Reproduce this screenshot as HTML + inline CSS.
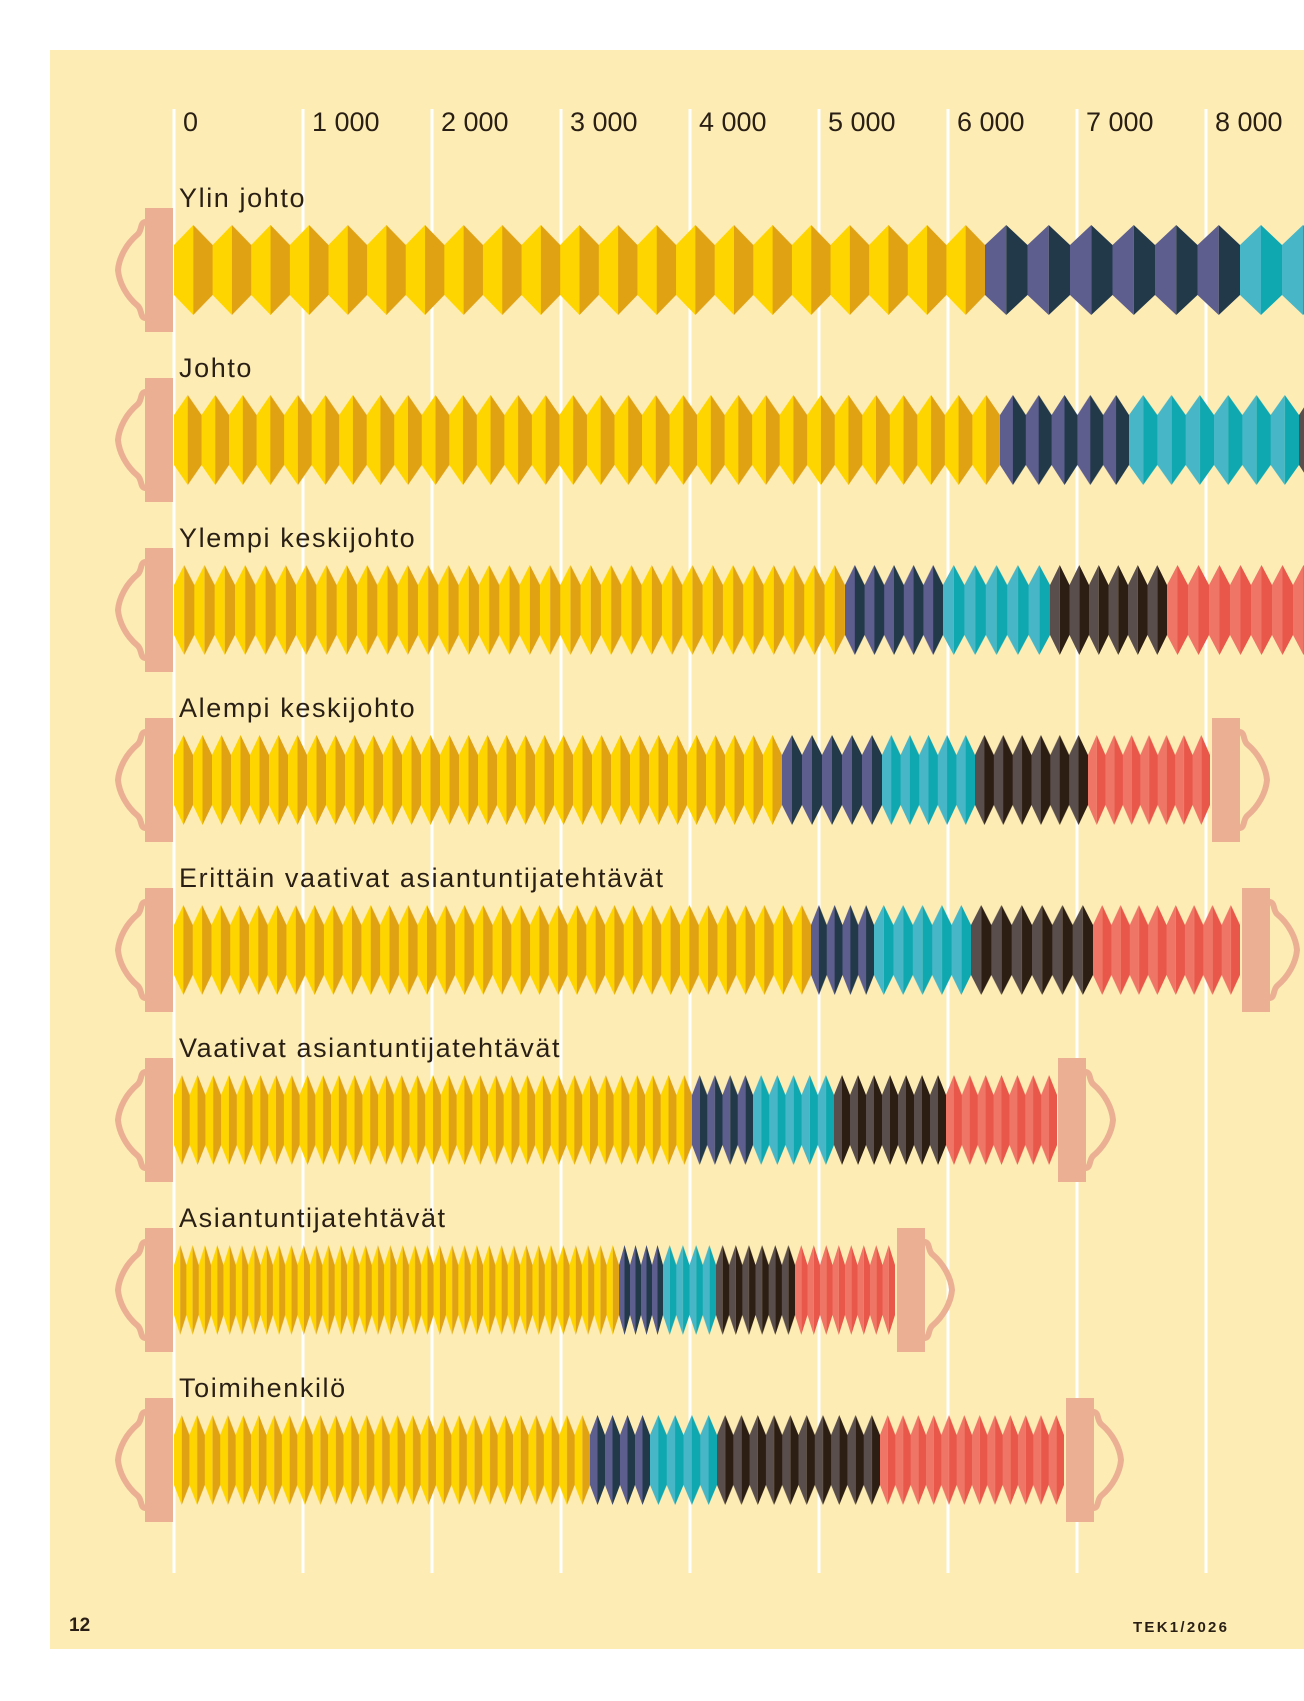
<!DOCTYPE html>
<html><head><meta charset="utf-8"><style>html,body{margin:0;padding:0;background:#fff}svg{display:block}</style></head>
<body>
<svg width="1304" height="1701" viewBox="0 0 1304 1701" xmlns="http://www.w3.org/2000/svg" font-family="'Liberation Sans', sans-serif">
<defs>
<pattern id="Y" viewBox="0 0 10 90" preserveAspectRatio="none" patternUnits="userSpaceOnUse" width="10" height="90" y="-45"><polygon points="5,0 0,20 0,70 5,90" fill="#FFD500"/><polygon points="5,0 10,20 10,70 5,90" fill="#E0A213"/></pattern>
<pattern id="N" href="#Y"><polygon points="5,0 0,20 0,70 5,90" fill="#5E5E8E"/><polygon points="5,0 10,20 10,70 5,90" fill="#22394A"/></pattern>
<pattern id="T" href="#Y"><polygon points="5,0 0,20 0,70 5,90" fill="#47B6C6"/><polygon points="5,0 10,20 10,70 5,90" fill="#0FA8B0"/></pattern>
<pattern id="D" href="#Y"><polygon points="5,0 0,20 0,70 5,90" fill="#5A4E4C"/><polygon points="5,0 10,20 10,70 5,90" fill="#2C1E12"/></pattern>
<pattern id="R" href="#Y"><polygon points="5,0 0,20 0,70 5,90" fill="#EF7566"/><polygon points="5,0 10,20 10,70 5,90" fill="#E8574A"/></pattern>

<pattern id="a1" href="#Y" x="174" width="38.62"/><pattern id="a2" href="#N" x="985" width="42.5"/><pattern id="a3" href="#T" x="1240" width="42"/>
<pattern id="b1" href="#Y" x="174" width="27.53"/><pattern id="b2" href="#N" x="1000" width="25.8"/><pattern id="b3" href="#T" x="1129" width="28.33"/><pattern id="b4" href="#D" x="1299" width="26"/>
<pattern id="c1" href="#Y" x="174" width="20.33"/><pattern id="c2" href="#N" x="845" width="19.6"/><pattern id="c3" href="#T" x="943" width="21.4"/><pattern id="c4" href="#D" x="1050" width="19.5"/><pattern id="c5" href="#R" x="1167" width="21"/>
<pattern id="d1" href="#Y" x="174" width="19"/><pattern id="d2" href="#N" x="782" width="20"/><pattern id="d3" href="#T" x="882" width="18.6"/><pattern id="d4" href="#D" x="975" width="18.83"/><pattern id="d5" href="#R" x="1088" width="17.43"/>
<pattern id="e1" href="#Y" x="174" width="18.74"/><pattern id="e2" href="#N" x="811" width="15.75"/><pattern id="e3" href="#T" x="874" width="19.4"/><pattern id="e4" href="#D" x="971" width="20.33"/><pattern id="e5" href="#R" x="1093" width="18.38"/>
<pattern id="f1" href="#Y" x="174" width="15.7"/><pattern id="f2" href="#N" x="692" width="15.25"/><pattern id="f3" href="#T" x="753" width="16.2"/><pattern id="f4" href="#D" x="834" width="16"/><pattern id="f5" href="#R" x="946" width="15.86"/>
<pattern id="g1" href="#Y" x="174" width="12.36"/><pattern id="g2" href="#N" x="619" width="11"/><pattern id="g3" href="#T" x="663" width="13.25"/><pattern id="g4" href="#D" x="716" width="13.17"/><pattern id="g5" href="#R" x="795" width="12.5"/>
<pattern id="h1" href="#Y" x="174" width="15.41"/><pattern id="h2" href="#N" x="590" width="15"/><pattern id="h3" href="#T" x="650" width="16.75"/><pattern id="h4" href="#D" x="717" width="16.3"/><pattern id="h5" href="#R" x="880" width="15.33"/>

<g id="capL"><rect x="145" y="-62" width="28" height="124" fill="#EBB093"/><path d="M145,-48 C140,-47 142,-40 138,-36 C126,-26 119,-12 118,0 C119,12 126,26 138,36 C142,40 140,47 145,48" fill="none" stroke="#EBB093" stroke-width="6" stroke-linecap="round"/></g>
<g id="capR"><rect x="0" y="-62" width="28" height="124" fill="#EBB093"/><path d="M28,-48 C33,-47 31,-40 35,-36 C47,-26 54,-12 55,0 C54,12 47,26 35,36 C31,40 33,47 28,48" fill="none" stroke="#EBB093" stroke-width="6" stroke-linecap="round"/></g>
</defs>

<rect x="50" y="50" width="1254" height="1599" fill="#FDEDB5"/>
<g stroke="#fff" stroke-width="3">
<line x1="174" y1="109" x2="174" y2="1573"/><line x1="303" y1="109" x2="303" y2="1573"/><line x1="432" y1="109" x2="432" y2="1573"/><line x1="561" y1="109" x2="561" y2="1573"/><line x1="690" y1="109" x2="690" y2="1573"/><line x1="819" y1="109" x2="819" y2="1573"/><line x1="948" y1="109" x2="948" y2="1573"/><line x1="1077" y1="109" x2="1077" y2="1573"/><line x1="1206" y1="109" x2="1206" y2="1573"/>
</g>
<g font-size="27" fill="#2A1F14">
<text x="183" y="131">0</text><text x="312" y="131">1 000</text><text x="441" y="131">2 000</text><text x="570" y="131">3 000</text><text x="699" y="131">4 000</text><text x="828" y="131">5 000</text><text x="957" y="131">6 000</text><text x="1086" y="131">7 000</text><text x="1215" y="131">8 000</text>
<g letter-spacing="1.6">
<text x="179" y="207">Ylin johto</text>
<text x="179" y="377">Johto</text>
<text x="179" y="547">Ylempi keskijohto</text>
<text x="179" y="717">Alempi keskijohto</text>
<text x="179" y="887">Erittäin vaativat asiantuntijatehtävät</text>
<text x="179" y="1057">Vaativat asiantuntijatehtävät</text>
<text x="179" y="1227">Asiantuntijatehtävät</text>
<text x="179" y="1397">Toimihenkilö</text>
</g>
</g>

<g transform="translate(0,270)"><use href="#capL"/><rect x="174" y="-45" width="811" height="90" fill="url(#a1)"/><rect x="985" y="-45" width="255" height="90" fill="url(#a2)"/><rect x="1240" y="-45" width="64" height="90" fill="url(#a3)"/></g>
<g transform="translate(0,440)"><use href="#capL"/><rect x="174" y="-45" width="826" height="90" fill="url(#b1)"/><rect x="1000" y="-45" width="129" height="90" fill="url(#b2)"/><rect x="1129" y="-45" width="170" height="90" fill="url(#b3)"/><rect x="1299" y="-45" width="5" height="90" fill="url(#b4)"/></g>
<g transform="translate(0,610)"><use href="#capL"/><rect x="174" y="-45" width="671" height="90" fill="url(#c1)"/><rect x="845" y="-45" width="98" height="90" fill="url(#c2)"/><rect x="943" y="-45" width="107" height="90" fill="url(#c3)"/><rect x="1050" y="-45" width="117" height="90" fill="url(#c4)"/><rect x="1167" y="-45" width="137" height="90" fill="url(#c5)"/></g>
<g transform="translate(0,780)"><use href="#capL"/><rect x="174" y="-45" width="608" height="90" fill="url(#d1)"/><rect x="782" y="-45" width="100" height="90" fill="url(#d2)"/><rect x="882" y="-45" width="93" height="90" fill="url(#d3)"/><rect x="975" y="-45" width="113" height="90" fill="url(#d4)"/><rect x="1088" y="-45" width="122" height="90" fill="url(#d5)"/><use href="#capR" x="1212"/></g>
<g transform="translate(0,950)"><use href="#capL"/><rect x="174" y="-45" width="637" height="90" fill="url(#e1)"/><rect x="811" y="-45" width="63" height="90" fill="url(#e2)"/><rect x="874" y="-45" width="97" height="90" fill="url(#e3)"/><rect x="971" y="-45" width="122" height="90" fill="url(#e4)"/><rect x="1093" y="-45" width="147" height="90" fill="url(#e5)"/><use href="#capR" x="1242"/></g>
<g transform="translate(0,1120)"><use href="#capL"/><rect x="174" y="-45" width="518" height="90" fill="url(#f1)"/><rect x="692" y="-45" width="61" height="90" fill="url(#f2)"/><rect x="753" y="-45" width="81" height="90" fill="url(#f3)"/><rect x="834" y="-45" width="112" height="90" fill="url(#f4)"/><rect x="946" y="-45" width="111" height="90" fill="url(#f5)"/><use href="#capR" x="1058"/></g>
<g transform="translate(0,1290)"><use href="#capL"/><rect x="174" y="-45" width="445" height="90" fill="url(#g1)"/><rect x="619" y="-45" width="44" height="90" fill="url(#g2)"/><rect x="663" y="-45" width="53" height="90" fill="url(#g3)"/><rect x="716" y="-45" width="79" height="90" fill="url(#g4)"/><rect x="795" y="-45" width="100" height="90" fill="url(#g5)"/><use href="#capR" x="897"/></g>
<g transform="translate(0,1460)"><use href="#capL"/><rect x="174" y="-45" width="416" height="90" fill="url(#h1)"/><rect x="590" y="-45" width="60" height="90" fill="url(#h2)"/><rect x="650" y="-45" width="67" height="90" fill="url(#h3)"/><rect x="717" y="-45" width="163" height="90" fill="url(#h4)"/><rect x="880" y="-45" width="184" height="90" fill="url(#h5)"/><use href="#capR" x="1066"/></g>

<text x="69" y="1631" font-size="19" font-weight="bold" fill="#2A1F14">12</text>
<text x="1133" y="1632" font-size="15" font-weight="bold" fill="#2A1F14" textLength="94" lengthAdjust="spacing">TEK1/2026</text>
</svg>
</body></html>
